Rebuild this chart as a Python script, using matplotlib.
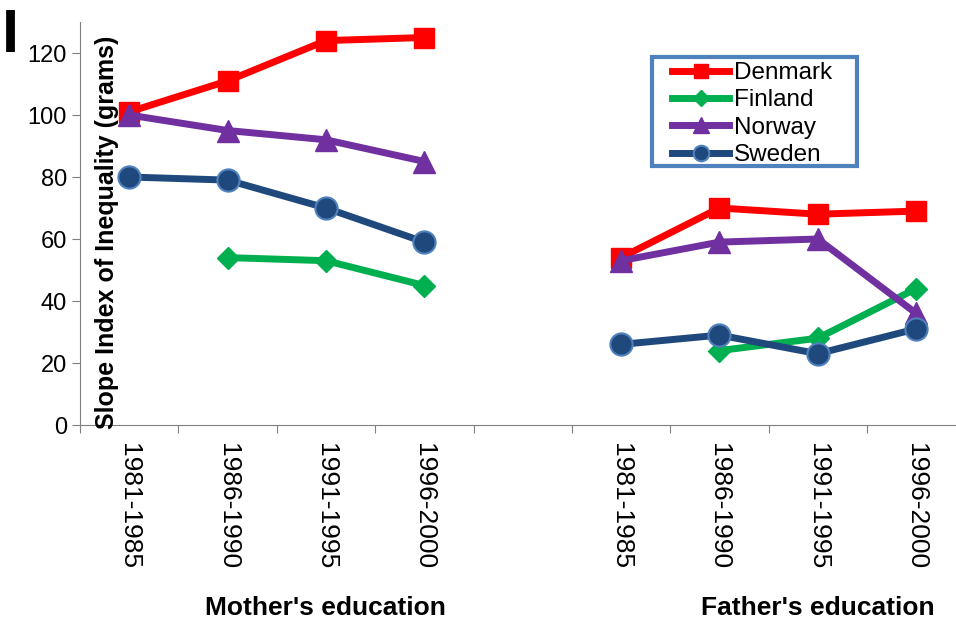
import numpy as np
import matplotlib.pyplot as plt
from matplotlib.patches import Rectangle

plt.rcParams['font.family'] = ['Liberation Sans', 'DejaVu Sans']

periods = ["1981-1985", "1986-1990", "1991-1995", "1996-2000"]
tick_labels = periods + [""] + periods

# mother's education (4), blank gap, father's education (4)
denmark = [101, 111, 124, 125, np.nan, 54, 70, 68, 69]
finland = [np.nan, 54, 53, 45, np.nan, np.nan, 24, 28, 44]
norway = [100, 95, 92, 85, np.nan, 53, 59, 60, 36]
sweden = [80, 79, 70, 59, np.nan, 26, 29, 23, 31]

x = np.arange(len(tick_labels))

W, H = 956, 619
fig = plt.figure(figsize=(W / 100, H / 100), dpi=100)
ax = fig.add_axes([80 / W, 194 / H, 885.4 / W, 403 / H])

ax.plot(x, denmark, color="#FF0000", lw=5, marker="s", ms=14, label="Denmark")
ax.plot(x, finland, color="#00B050", lw=5, marker="D", ms=11, label="Finland")
ax.plot(x, norway, color="#7030A0", lw=5, marker="^", ms=16, label="Norway")
ax.plot(x, sweden, color="#1F497D", lw=5, marker="o", ms=16,
        mec="#4F81BD", mew=1.5, label="Sweden")

ax.set_xlim(-0.5, len(x) - 0.5)
ax.set_ylim(0, 130)
ax.set_yticks(np.arange(0, 121, 20))
ax.tick_params(axis="y", labelsize=17, length=6, color="#808080", direction="out")

# tick marks between categories, labels at category centres
ax.set_xticks(np.arange(-0.5, len(x), 1))
ax.set_xticklabels([])
ax.tick_params(axis="x", which="major", length=6, color="#808080", direction="out")
ax.set_xticks(x, minor=True)
ax.set_xticklabels(tick_labels, minor=True, rotation=270, fontsize=19)
ax.tick_params(axis="x", which="minor", length=0, pad=13)

for side in ["top", "right"]:
    ax.spines[side].set_visible(False)
for side in ["left", "bottom"]:
    ax.spines[side].set_color("#808080")

fig.text(107 / W, 1 - 232 / H, "Slope Index of Inequality (grams)",
         rotation=90, ha="center", va="center", fontsize=18, fontweight="bold")
fig.text(325 / W, 1 - 608 / H, "Mother's education", ha="center",
         va="center", fontsize=19, fontweight="bold")
fig.text(818 / W, 1 - 608 / H, "Father's education", ha="center",
         va="center", fontsize=19, fontweight="bold")
fig.text(2 / W, 1 - 36 / H, "I", ha="left", va="center", fontsize=44,
         fontweight="bold")

# legend without its own frame, boxed separately
leg = ax.legend(loc="upper left", bbox_to_anchor=(672 / W, 1 - 62 / H),
                bbox_transform=fig.transFigure, fontsize=17.5, frameon=False,
                handlelength=2.35, handletextpad=0.2, labelspacing=0.22,
                borderpad=0, borderaxespad=0, markerscale=0.7)
fig.patches.append(Rectangle((652 / W, 1 - 166 / H), 205 / W, 109 / H,
                             transform=fig.transFigure, fill=False,
                             edgecolor="#4F81BD", lw=3))

fig.savefig("out.png", dpi=100)
